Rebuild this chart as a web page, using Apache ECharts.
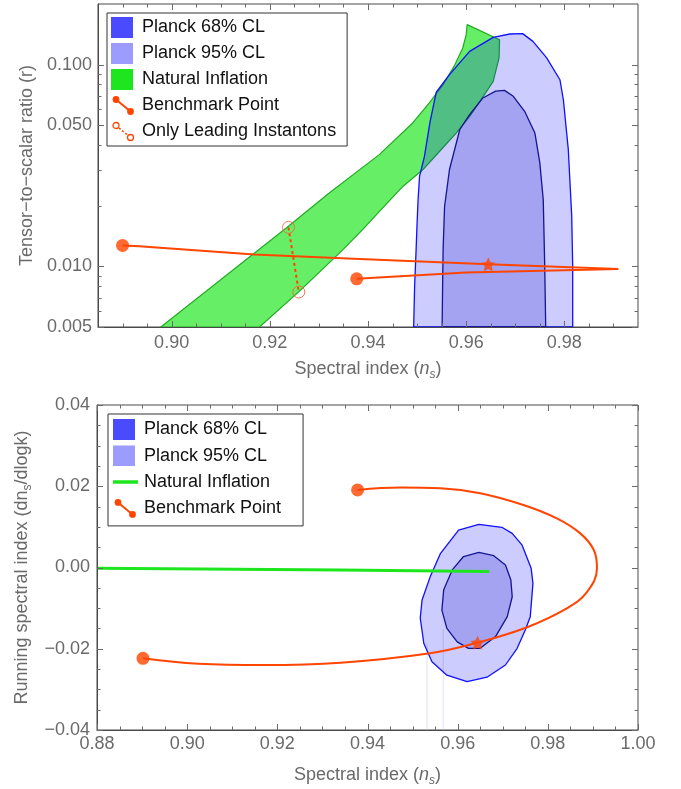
<!DOCTYPE html>
<html>
<head>
<meta charset="utf-8">
<script src="https://cdn.jsdelivr.net/npm/echarts@6/dist/echarts.min.js"></script>
<style>html,body{margin:0;padding:0;background:#fff}#c{width:681px;height:789px}</style>
</head>
<body>
<div id="c"></div>
<script>
// ================= DATA =================
// ---- Top panel: tensor-to-scalar ratio r vs spectral index n_s ----
const topXTicks = [0.90, 0.92, 0.94, 0.96, 0.98];
const topXMinorTicks = [0.89, 0.895, 0.905, 0.91, 0.915, 0.925, 0.93, 0.935, 0.945, 0.95, 0.955, 0.965, 0.97, 0.975, 0.985, 0.99];
const topYTicks = [0.00500001, 0.01, 0.05, 0.1];
const topYMinorTicks = [0.006, 0.007, 0.008, 0.009, 0.02, 0.03, 0.04, 0.06, 0.07, 0.08, 0.09];

const planck95TopNs = [0.9493, 0.9495, 0.9498, 0.9500, 0.9502, 0.9505, 0.9515, 0.9526, 0.9539, 0.9566, 0.9607, 0.9655, 0.9689, 0.9715, 0.9736, 0.9764, 0.9791, 0.9798, 0.9808, 0.9815, 0.9817, 0.9817];
const planck95TopR  = [0.005, 0.008, 0.0121, 0.0164, 0.0214, 0.0279, 0.0351, 0.0514, 0.073, 0.0892, 0.1164, 0.1366, 0.142, 0.1426, 0.1305, 0.108, 0.0842, 0.067, 0.038, 0.0177, 0.010, 0.005];

const planck68TopNs = [0.9551, 0.9552, 0.9553, 0.9556, 0.9566, 0.9587, 0.9607, 0.9634, 0.9660, 0.9678, 0.9696, 0.9719, 0.9740, 0.9750, 0.9757, 0.9760, 0.9762];
const planck68TopR  = [0.005, 0.008, 0.0121, 0.0198, 0.0302, 0.0477, 0.0565, 0.0684, 0.0740, 0.0746, 0.0697, 0.0587, 0.0458, 0.0326, 0.0214, 0.010, 0.005];

const naturalTopNs = [0.8978, 0.9236, 0.9321, 0.9423, 0.9491, 0.9525, 0.9553, 0.9577, 0.9593, 0.9600, 0.9602,
                      0.9668, 0.9667, 0.9655, 0.9628, 0.9607, 0.9580, 0.9546, 0.9512, 0.9471, 0.9430, 0.9389, 0.9349, 0.9260, 0.9179];
const naturalTopR  = [0.005, 0.01568, 0.0231, 0.0358, 0.0514, 0.0646, 0.0796, 0.100, 0.121, 0.141, 0.158,
                      0.133, 0.108, 0.0826, 0.0658, 0.0554, 0.0459, 0.0372, 0.0302, 0.0249, 0.0195, 0.0152, 0.0121, 0.00751, 0.005];

const benchTopNs = [0.8900, 0.8934, 0.9168, 0.9383, 0.9645, 0.9910, 0.9600, 0.9377];
const benchTopR  = [0.0127, 0.01257, 0.01143, 0.01088, 0.01023, 0.0097, 0.00933, 0.00867];
const benchStarTop = [0.9645, 0.01023];

const leadingNs = [0.9238, 0.9259];
const leadingR  = [0.0156, 0.00746];

// ---- Bottom panel: running dn_s/dlogk vs n_s ----
const botXTicks = [0.88, 0.90, 0.92, 0.94, 0.96, 0.98, 1.00];
const botXMinorTicks = [0.885, 0.89, 0.895, 0.905, 0.91, 0.915, 0.925, 0.93, 0.935, 0.945, 0.95, 0.955, 0.965, 0.97, 0.975, 0.985, 0.99, 0.995];
const botYTicks = [-0.04, -0.02, 0, 0.02, 0.04];
const botYMinorTicks = [-0.035, -0.03, -0.025, -0.015, -0.01, -0.005, 0.005, 0.01, 0.015, 0.025, 0.03, 0.035];

const planck95BotNs  = [0.9647, 0.9698, 0.9721, 0.9743, 0.9763, 0.9767, 0.9761, 0.9750, 0.9732, 0.9706, 0.9665, 0.9621, 0.9576, 0.9543, 0.9525, 0.9517, 0.9521, 0.9539, 0.9562, 0.9602];
const planck95BotRun = [0.01063, 0.0099, 0.0084, 0.0055, -0.0002, -0.0039, -0.0121, -0.0154, -0.0199, -0.0240, -0.0270, -0.0281, -0.0265, -0.0232, -0.0187, -0.0125, -0.0080, -0.0023, 0.0035, 0.0092];

const planck68BotNs  = [0.9647, 0.9680, 0.9706, 0.9718, 0.9721, 0.9710, 0.9684, 0.9650, 0.9624, 0.9599, 0.9576, 0.9565, 0.9569, 0.9588, 0.9613];
const planck68BotRun = [0.0037, 0.0029, 0.0006, -0.0031, -0.0072, -0.0121, -0.0170, -0.0199, -0.0199, -0.0183, -0.0150, -0.0105, -0.0055, -0.0006, 0.0027];

const naturalBotNs  = [0.880, 0.934, 0.967];
const naturalBotRun = [-0.0002, -0.0006, -0.0010];

const benchBotNs  = [0.8902, 0.9024, 0.9170, 0.9340, 0.9539, 0.9644, 0.9754, 0.9843, 0.9887, 0.9909, 0.9902, 0.9872, 0.9820, 0.9746, 0.9650, 0.9562, 0.9473, 0.9378];
const benchBotRun = [-0.02236, -0.0237, -0.0240, -0.02343, -0.0211, -0.0185, -0.0147, -0.0100, -0.0060, -0.0002, 0.0043, 0.0084, 0.0121, 0.0154, 0.0183, 0.0195, 0.0197, 0.0191];
const benchStarBot = [0.9644, -0.0185];

const artifactNs  = [0.9532, 0.9568];
const artifactTop = [-0.0187, -0.0152];

// ================= STYLE =================
const FONT = '"Liberation Sans", Arial, sans-serif';
const FRAME = '#4a4a4a', TICKC = '#6a6a6a', LABELC = '#6a6a6a';
const ORANGE = '#ff4500';
const STAR = 'path://M0,-10L2.94,-4.05L9.51,-3.09L4.76,1.55L5.88,8.09L0,5L-5.88,8.09L-4.76,1.55L-9.51,-3.09L-2.94,-4.05Z';

const nameRich = {
  t:  {fontSize: 18, color: LABELC, lineHeight: 24, fontFamily: FONT},
  i:  {fontSize: 18, color: LABELC, lineHeight: 24, fontFamily: FONT, fontStyle: 'italic'},
  s:  {fontSize: 12, color: LABELC, lineHeight: 12, fontFamily: FONT, verticalAlign: 'bottom'},
  si: {fontSize: 12, color: LABELC, lineHeight: 12, fontFamily: FONT, verticalAlign: 'bottom', fontStyle: 'italic'}
};

function mainAxis(kind, grid, type, min, max, labels, fmt, name, nameGap, margin) {
  const ax = {
    type: type, gridIndex: grid, min: min, max: max, z: 6, silent: true,
    position: kind === 'x' ? 'bottom' : 'left',
    splitLine: {show: false},
    axisLine: {show: true, onZero: false, lineStyle: {color: FRAME, width: 1}},
    axisTick: {show: false},
    axisLabel: {show: true, customValues: labels, formatter: fmt, color: LABELC, fontSize: 18, fontFamily: FONT, margin: margin},
    name: name, nameLocation: 'middle', nameGap: nameGap, nameRotate: kind === 'y' ? 90 : 0,
    nameTextStyle: {color: LABELC, fontSize: 18, fontFamily: FONT, rich: nameRich}
  };
  if (type === 'log') ax.logBase = 10;
  return ax;
}

// Frame ticks on all four sides, placed through the axes' own scales
function frameTicks(xi, yi, xMaj, xMin, yMaj, yMin) {
  return {
    type: 'custom', xAxisIndex: xi, yAxisIndex: yi, z: 7, silent: true, clip: false,
    data: [[xMaj[1], yMaj[1]]], encode: {x: 0, y: 1},
    renderItem: function (params, api) {
      const cs = params.coordSys;
      const L = cs.x, R = cs.x + cs.width, T = cs.y, B = cs.y + cs.height;
      const kids = [];
      const add = (x1, y1, x2, y2) => kids.push({type: 'line', shape: {x1: x1, y1: y1, x2: x2, y2: y2},
        style: {stroke: TICKC, lineWidth: 1}});
      [[xMaj, 6], [xMin, 3.5]].forEach(([arr, len]) => arr.forEach(v => {
        const x = Math.round(api.coord([v, yMaj[1]])[0]) + 0.5;
        add(x, B, x, B - len); add(x, T, x, T + len);
      }));
      [[yMaj, 6], [yMin, 3.5]].forEach(([arr, len]) => arr.forEach(v => {
        const y = Math.round(api.coord([xMaj[1], v])[1]) + 0.5;
        add(L, y, L + len, y); add(R, y, R - len, y);
      }));
      return {type: 'group', children: kids};
    }
  };
}

function poly(name, xs, ys, fill, stroke, lw, xi, yi) {
  const pts = xs.map((x, i) => [x, ys[i]]);
  return {
    type: 'custom', name: name, xAxisIndex: xi, yAxisIndex: yi, z: 2, silent: true, clip: true,
    data: [pts[0]], encode: {x: 0, y: 1},
    renderItem: function (params, api) {
      return {type: 'polygon', shape: {points: pts.map(p => api.coord(p))},
              style: {fill: fill, stroke: stroke, lineWidth: lw, lineJoin: 'round'}};
    }
  };
}
function line(name, xs, ys, color, width, xi, yi, extra) {
  return Object.assign({
    type: 'line', name: name, xAxisIndex: xi, yAxisIndex: yi, z: 3, silent: true, showSymbol: false, symbol: 'none',
    data: xs.map((x, i) => [x, ys[i]]), lineStyle: {color: color, width: width}, itemStyle: {color: color}, clip: true
  }, extra || {});
}
function pts(name, list, symbol, size, itemStyle, xi, yi) {
  return {type: 'scatter', name: name, xAxisIndex: xi, yAxisIndex: yi, z: 4, silent: true,
          symbol: symbol, symbolSize: size, data: list, itemStyle: itemStyle};
}

function svgIcon(body) {
  return 'image://data:image/svg+xml;charset=utf-8,' + encodeURIComponent(
    '<svg xmlns="http://www.w3.org/2000/svg" width="26" height="21" viewBox="0 0 26 21">' + body + '</svg>');
}
const icon68 = svgIcon('<rect x="0" y="0" width="22" height="21" fill="#4a4aff"/>');
const icon95 = svgIcon('<rect x="0" y="0" width="22" height="21" fill="#9c9cff"/>');
const iconNatSq = svgIcon('<rect x="0" y="0" width="22" height="21" fill="#1ee61e"/>');
const iconNatLine = svgIcon('<line x1="0" y1="10.5" x2="25" y2="10.5" stroke="#1ee61e" stroke-width="3.5"/>');
const iconBench = svgIcon('<line x1="5" y1="4.5" x2="19.5" y2="16.5" stroke="' + ORANGE + '" stroke-width="2"/>' +
  '<circle cx="5" cy="4.5" r="3.4" fill="' + ORANGE + '"/><circle cx="19.5" cy="16.5" r="3.4" fill="' + ORANGE + '"/>');
const iconLead = svgIcon('<line x1="5" y1="4.5" x2="19.5" y2="16.5" stroke="' + ORANGE + '" stroke-width="1.6" stroke-dasharray="2,2"/>' +
  '<circle cx="5" cy="4.5" r="3" fill="#fff" stroke="' + ORANGE + '" stroke-width="1.3"/><circle cx="19.5" cy="16.5" r="3" fill="#fff" stroke="' + ORANGE + '" stroke-width="1.3"/>');

const fmt2 = v => v.toFixed(2);
const fmt3 = v => v.toFixed(3);
const fmtSigned = v => (v < -1e-9 ? '\u2212' : '') + Math.abs(v).toFixed(2);

const xAxes = [
  mainAxis('x', 0, 'value', 0.885, 0.995, topXTicks, fmt2, '{t|Spectral index (}{i|n}{si|s}{t|)}', 30, 7),
  mainAxis('x', 1, 'value', 0.88, 1.00, botXTicks, fmt2, '{t|Spectral index (}{i|n}{si|s}{t|)}', 33, 5)
];
const yAxes = [
  mainAxis('y', 0, 'log', 0.005, 0.2, topYTicks, fmt3, '{t|Tensor\u2212to\u2212scalar ratio (r)}', 59, 6),
  mainAxis('y', 1, 'value', -0.04, 0.04, botYTicks, fmtSigned, '{t|Running spectral index (dn}{s|s}{t|/dlogk)}', 62, 7)
];

const series = [
  // top panel
  poly('Natural Inflation', naturalTopNs, naturalTopR, '#66ee66', '#22aa22', 1.2, 0, 0),
  poly('Planck 95% CL', planck95TopNs, planck95TopR, 'rgba(0,0,255,0.2)', '#1010ff', 1.3, 0, 0),
  poly('Planck 68% CL', planck68TopNs, planck68TopR, 'rgba(0,0,190,0.2)', '#15158f', 1.3, 0, 0),
  line('Benchmark Point', benchTopNs, benchTopR, ORANGE, 2, 0, 0),
  line('Only Leading Instantons', leadingNs, leadingR, ORANGE, 2, 0, 0, {lineStyle: {color: ORANGE, width: 2, type: [3, 3]}}),
  pts('Benchmark Point', [[benchTopNs[0], benchTopR[0]], [benchTopNs[benchTopNs.length - 1], benchTopR[benchTopR.length - 1]]], 'circle', 13, {color: ORANGE}, 0, 0),
  pts('Benchmark Point', [benchStarTop], STAR, 14, {color: ORANGE}, 0, 0),
  pts('Only Leading Instantons', leadingNs.map((x, i) => [x, leadingR[i]]), 'circle', 12, {color: 'rgba(0,0,0,0)', borderColor: '#ff5a30', borderWidth: 1}, 0, 0),
  frameTicks(0, 0, topXTicks, topXMinorTicks, topYTicks, topYMinorTicks),
  // bottom panel
  line('', [artifactNs[0], artifactNs[0]], [artifactTop[0], -0.04], 'rgba(205,205,240,0.6)', 1, 1, 1, {z: 1}),
  line('', [artifactNs[1], artifactNs[1]], [artifactTop[1], -0.04], 'rgba(205,205,240,0.6)', 1, 1, 1, {z: 1}),
  poly('Planck 95% CL', planck95BotNs, planck95BotRun, 'rgba(0,0,255,0.2)', '#1010ff', 1.3, 1, 1),
  poly('Planck 68% CL', planck68BotNs, planck68BotRun, 'rgba(0,0,190,0.2)', '#15158f', 1.3, 1, 1),
  line('Natural Inflation', naturalBotNs, naturalBotRun, '#1ee61e', 3, 1, 1),
  line('Benchmark Point', benchBotNs, benchBotRun, ORANGE, 2, 1, 1, {smooth: 0.4}),
  pts('Benchmark Point', [[benchBotNs[0], benchBotRun[0]], [benchBotNs[benchBotNs.length - 1], benchBotRun[benchBotRun.length - 1]]], 'circle', 13, {color: ORANGE}, 1, 1),
  pts('Benchmark Point', [benchStarBot], STAR, 14, {color: ORANGE}, 1, 1),
  frameTicks(1, 1, botXTicks, botXMinorTicks, botYTicks, botYMinorTicks)
];

const legendBase = {
  orient: 'vertical', selectedMode: false, z: 10, itemWidth: 26, itemHeight: 21,
  backgroundColor: '#fff', borderColor: '#333', borderWidth: 1, borderRadius: 0,
  textStyle: {color: '#111', fontSize: 18, fontFamily: FONT}
};

const option = {
  animation: false,
  backgroundColor: '#fff',
  textStyle: {fontFamily: FONT},
  grid: [
    {left: 98, top: 4, width: 540, height: 323, show: true, borderColor: FRAME, borderWidth: 1, backgroundColor: 'transparent', outerBoundsMode: 'none', containLabel: false},
    {left: 97, top: 405, width: 541, height: 325, show: true, borderColor: FRAME, borderWidth: 1, backgroundColor: 'transparent', outerBoundsMode: 'none', containLabel: false}
  ],
  xAxis: xAxes,
  yAxis: yAxes,
  legend: [
    Object.assign({}, legendBase, {left: 107, top: 13, padding: [4, 11, 4, 4], itemGap: 5,
      data: [
        {name: 'Planck 68% CL', icon: icon68},
        {name: 'Planck 95% CL', icon: icon95},
        {name: 'Natural Inflation', icon: iconNatSq},
        {name: 'Benchmark Point', icon: iconBench},
        {name: 'Only Leading Instantons', icon: iconLead}
      ]}),
    Object.assign({}, legendBase, {left: 108, top: 414, padding: [5, 22, 7, 5], itemGap: 5.3,
      data: [
        {name: 'Planck 68% CL', icon: icon68},
        {name: 'Planck 95% CL', icon: icon95},
        {name: 'Natural Inflation', icon: iconNatLine},
        {name: 'Benchmark Point', icon: iconBench}
      ]})
  ],
  series: series
};

const chart = echarts.init(document.getElementById('c'), null, {renderer: 'canvas'});
chart.setOption(option);
</script>
</body>
</html>
